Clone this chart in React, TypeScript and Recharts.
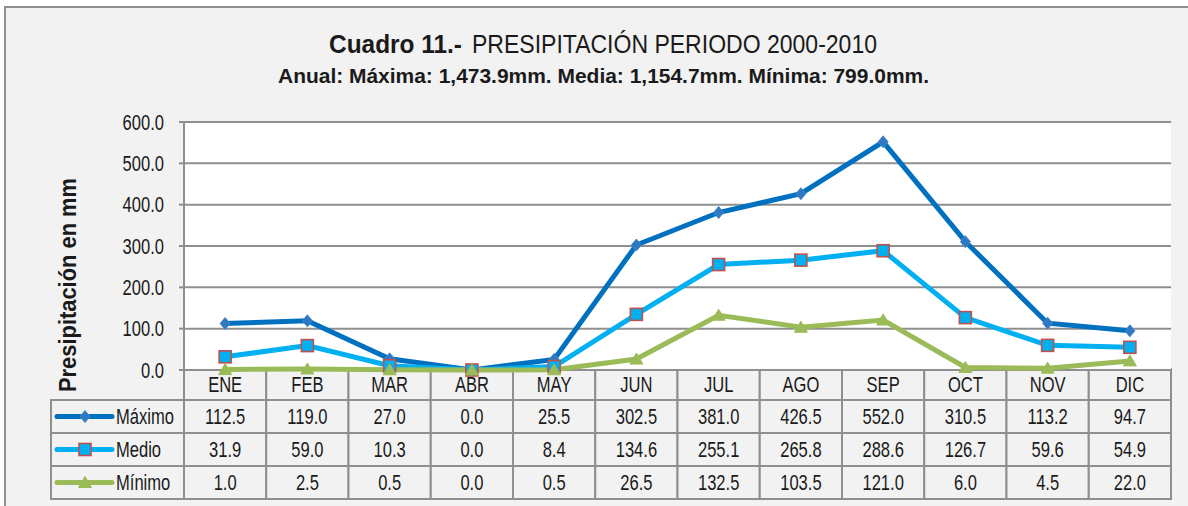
import React from "react";
import { LineChart, Line, XAxis, YAxis, CartesianGrid } from "recharts";

const months = ["ENE", "FEB", "MAR", "ABR", "MAY", "JUN", "JUL", "AGO", "SEP", "OCT", "NOV", "DIC"];
const maximo = [112.5, 119.0, 27.0, 0.0, 25.5, 302.5, 381.0, 426.5, 552.0, 310.5, 113.2, 94.7];
const medio = [31.9, 59.0, 10.3, 0.0, 8.4, 134.6, 255.1, 265.8, 288.6, 126.7, 59.6, 54.9];
const minimo = [1.0, 2.5, 0.5, 0.0, 0.5, 26.5, 132.5, 103.5, 121.0, 6.0, 4.5, 22.0];
const yTicks = [0, 100, 200, 300, 400, 500, 600];

const data = months.map((mes, i) => ({ mes, maximo: maximo[i], medio: medio[i], minimo: minimo[i] }));

const W = 1188;
const H = 506;
const PLOT_L = 184;
const PLOT_R = 1171;
const PLOT_T = 122;
const PLOT_B = 370;
const COL_W = (PLOT_R - PLOT_L) / months.length;
const FONT = "'Liberation Sans', Arial, sans-serif";
const SX = 0.77; // narrow look
const GRID = "#8f8f8f";
const BG = "#f2f2f2";
const INK = "#1a1a1a";

const C_MAX = "#0070c0";
const C_MED = "#00b0f0";
const C_MIN = "#9bbb59";

type NProps = { x: number; y: number; size?: number; anchor?: "start" | "middle" | "end"; bold?: boolean; children: React.ReactNode };

// Arial-narrow style text: regular Liberation Sans squeezed horizontally
function NText({ x, y, size = 21.5, anchor = "start", bold, children }: NProps) {
  return (
    <text
      transform={`translate(${x},${y}) scale(${SX},1)`}
      fontSize={size}
      fontFamily={FONT}
      fontWeight={bold ? "bold" : "normal"}
      fill={INK}
      textAnchor={anchor}
    >
      {children}
    </text>
  );
}

function Diamond({ cx, cy }: { cx: number; cy: number }) {
  return <path d={`M${cx},${cy - 6} L${cx + 5},${cy} L${cx},${cy + 6} L${cx - 5},${cy} Z`} fill="#2f78c4" stroke="#4a86c8" strokeWidth={1} />;
}
function Square({ cx, cy }: { cx: number; cy: number }) {
  return <rect x={cx - 6} y={cy - 6} width={12} height={12} fill={C_MED} stroke="#c0504d" strokeWidth={1.6} />;
}
function Triangle({ cx, cy }: { cx: number; cy: number }) {
  return <path d={`M${cx},${cy - 6} L${cx + 6.5},${cy + 5} L${cx - 6.5},${cy + 5} Z`} fill={C_MIN} stroke={C_MIN} strokeWidth={1} />;
}

const series = [
  { key: "maximo", name: "Máximo", color: C_MAX, values: maximo, Marker: Diamond },
  { key: "medio", name: "Medio", color: C_MED, values: medio, Marker: Square },
  { key: "minimo", name: "Mínimo", color: C_MIN, values: minimo, Marker: Triangle },
];

const HEAD_T = 369;
const ROW_H = 33;
const HEAD_H = 31;
const LEG_L = 51;

function Overlay() {
  const rows = series.map((s, r) => {
    const top = HEAD_T + HEAD_H + r * ROW_H;
    const mid = top + ROW_H / 2;
    return (
      <g key={s.key}>
        <rect x={LEG_L} y={top} width={PLOT_L - LEG_L} height={ROW_H} fill={BG} stroke={GRID} strokeWidth={2} />
        <line x1={57} x2={112} y1={mid} y2={mid} stroke={s.color} strokeWidth={5} strokeLinecap="round" />
        <s.Marker cx={85} cy={mid} />
        <NText x={116} y={mid + 7.5}>{s.name}</NText>
        {s.values.map((v, i) => (
          <g key={i}>
            <rect x={PLOT_L + i * COL_W} y={top} width={COL_W} height={ROW_H} fill={BG} stroke={GRID} strokeWidth={2} />
            <NText x={PLOT_L + (i + 0.5) * COL_W} y={mid + 7.5} anchor="middle">
              {v.toFixed(1)}
            </NText>
          </g>
        ))}
      </g>
    );
  });
  return (
    <svg width={W} height={H} style={{ position: "absolute", left: 0, top: 0 }}>
      <text y={53} fontFamily={FONT} fill={INK}>
        <tspan x={329} fontSize={25} fontWeight="bold" textLength={133} lengthAdjust="spacingAndGlyphs">Cuadro  11.-</tspan>
        <tspan x={472} fontSize={25} textLength={405} lengthAdjust="spacingAndGlyphs">PRESIPITACIÓN PERIODO 2000-2010</tspan>
      </text>
      <text x={278} y={83} fontSize={20.5} fontWeight="bold" fontFamily={FONT} fill={INK} textLength={651} lengthAdjust="spacingAndGlyphs">
        Anual: Máxima: 1,473.9mm. Media: 1,154.7mm. Mínima: 799.0mm.
      </text>
      <text
        transform="translate(76, 392) rotate(-90)"
        fontSize={23}
        fontWeight="bold"
        fontFamily={FONT}
        fill={INK}
        textLength={214}
        lengthAdjust="spacingAndGlyphs"
      >
        Presipitación en mm
      </text>
      {months.map((m, i) => (
        <g key={m}>
          <rect x={PLOT_L + i * COL_W} y={HEAD_T} width={COL_W} height={HEAD_H} fill={BG} stroke={GRID} strokeWidth={2} />
          <NText x={PLOT_L + (i + 0.5) * COL_W} y={HEAD_T + 23} anchor="middle">
            {m}
          </NText>
        </g>
      ))}
      {rows}
    </svg>
  );
}

function YTick(p: any) {
  return (
    <NText x={p.x} y={p.y + 7.5} size={21.5} anchor="end">
      {Number(p.payload.value).toFixed(1)}
    </NText>
  );
}

export default function App() {
  return (
    <div style={{ position: "absolute", left: 0, top: 0, width: W, height: H, background: "#fff", overflow: "hidden" }}>
      <div
        style={{
          position: "absolute",
          left: 4,
          top: 6,
          width: W,
          height: H,
          background: BG,
          borderTop: `2px solid ${GRID}`,
          borderLeft: `2px solid ${GRID}`,
        }}
      />
      <Overlay />
      <div style={{ position: "absolute", left: 0, top: 0 }}>
        <LineChart width={W} height={H} data={data} margin={{ top: PLOT_T, right: W - PLOT_R, bottom: H - PLOT_B, left: 0 }}>
          <CartesianGrid vertical={false} fill="#fff" stroke={GRID} strokeWidth={2} />
          <XAxis dataKey="mes" scale="band" hide />
          <YAxis
            width={PLOT_L}
            domain={[0, 600]}
            ticks={yTicks}
            interval={0}
            tick={YTick}
            tickSize={5}
            tickMargin={15}
            stroke={GRID}
            strokeWidth={2}
          />
          {series.map((s) => (
            <Line
              key={s.key}
              dataKey={s.key}
              name={s.name}
              type="linear"
              stroke={s.color}
              strokeWidth={5}
              isAnimationActive={false}
              dot={(p: any) => <s.Marker key={`${s.key}-${p.index}`} cx={p.cx} cy={p.cy} />}
              activeDot={false}
            />
          ))}
        </LineChart>
      </div>
    </div>
  );
}
